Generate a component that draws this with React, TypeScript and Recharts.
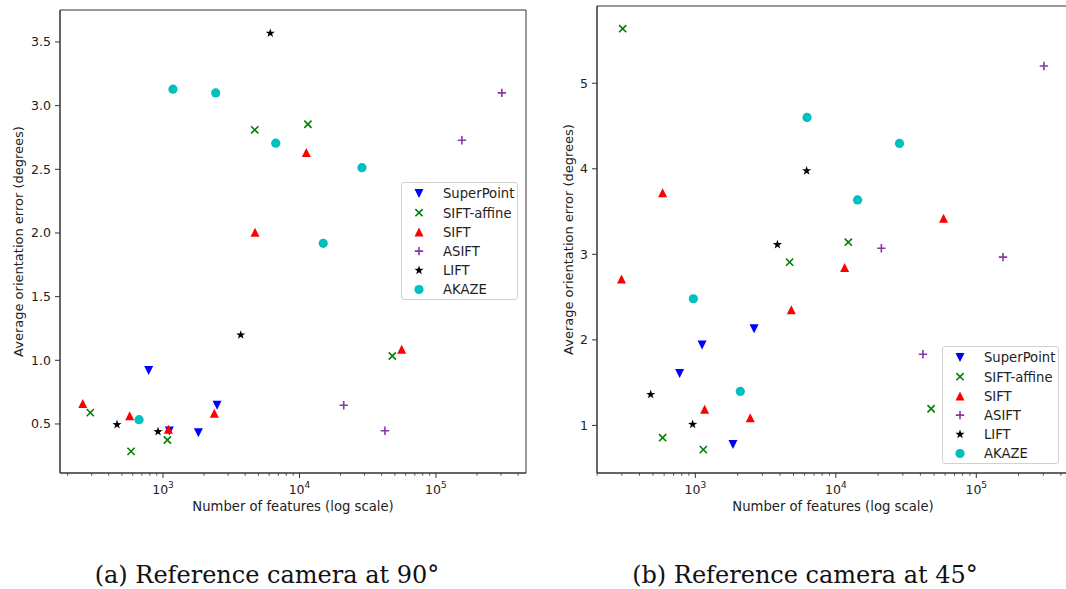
import React from 'react';
import { ScatterChart, Scatter, XAxis, YAxis, ReferenceArea, Legend } from 'recharts';

// --- data (x = number of features, y = error in degrees) ---

// (a) reference camera at 90°
const superPointX90 = [785, 1112, 1815, 2490];
const superPointY90 = [0.92, 0.445, 0.432, 0.647];
const siftAffineX90 = [293, 583, 1076, 4700, 11530, 47900];
const siftAffineY90 = [0.589, 0.285, 0.374, 2.81, 2.854, 1.034];
const siftX90 = [258, 570, 1094, 2377, 4720, 11220, 56100];
const siftY90 = [0.66, 0.565, 0.458, 0.584, 2.006, 2.631, 1.087];
const asiftX90 = [21100, 42300, 155000, 304000];
const asiftY90 = [0.647, 0.447, 2.728, 3.1];
const liftX90 = [460, 919, 3710, 6110];
const liftY90 = [0.495, 0.44, 1.199, 3.569];
const akazeX90 = [667, 1183, 2432, 6700, 14930, 28700];
const akazeY90 = [0.534, 3.129, 3.1, 2.705, 1.919, 2.513];

// (b) reference camera at 45°
const superPointX45 = [773, 1117, 1853, 2620];
const superPointY45 = [1.606, 1.941, 0.778, 2.131];
const siftAffineX45 = [304, 585, 1140, 4690, 12270, 47700];
const siftAffineY45 = [5.638, 0.857, 0.717, 2.909, 3.142, 1.195];
const siftX45 = [298, 585, 1165, 2460, 4820, 11560, 58500];
const siftY45 = [2.711, 3.72, 1.19, 1.09, 2.353, 2.846, 3.422];
const asiftX45 = [21100, 41700, 155000, 303000];
const asiftY45 = [3.072, 1.832, 2.967, 5.202];
const liftX45 = [481, 957, 3840, 6200];
const liftY45 = [1.362, 1.012, 3.114, 3.977];
const akazeX45 = [968, 2090, 6240, 14300, 28400];
const akazeY45 = [2.481, 1.397, 4.6, 3.636, 4.297];

const seriesNames = ['SuperPoint', 'SIFT-affine', 'SIFT', 'ASIFT', 'LIFT', 'AKAZE'];
const seriesColors = ['#0000ff', '#008000', '#ff0000', '#8c35a8', '#000000', '#00bfbf'];
const seriesMarkers = ['tri-down', 'x', 'tri-up', 'plus', 'star', 'circle'];

const yTicks90 = [0.5, 1.0, 1.5, 2.0, 2.5, 3.0, 3.5];
const yTicks45 = [1, 2, 3, 4, 5];
const xTicks = [
  200, 300, 400, 500, 600, 700, 800, 900,
  1000, 2000, 3000, 4000, 5000, 6000, 7000, 8000, 9000,
  10000, 20000, 30000, 40000, 50000, 60000, 70000, 80000, 90000,
  100000, 200000, 300000, 400000,
];

const zip = (xs: number[], ys: number[]) => xs.map((x, i) => ({ x, y: ys[i] }));

const data90 = [
  zip(superPointX90, superPointY90),
  zip(siftAffineX90, siftAffineY90),
  zip(siftX90, siftY90),
  zip(asiftX90, asiftY90),
  zip(liftX90, liftY90),
  zip(akazeX90, akazeY90),
];
const data45 = [
  zip(superPointX45, superPointY45),
  zip(siftAffineX45, siftAffineY45),
  zip(siftX45, siftY45),
  zip(asiftX45, asiftY45),
  zip(liftX45, liftY45),
  zip(akazeX45, akazeY45),
];

const FONT = '"DejaVu Sans", sans-serif';
const AXIS = '#333';

function Marker({ kind, cx, cy, color }: { kind: string; cx: number; cy: number; color: string }) {
  const r = 4.5;
  switch (kind) {
    case 'tri-down':
      return <path d={`M${cx - r},${cy - r}L${cx + r},${cy - r}L${cx},${cy + r}Z`} fill={color} />;
    case 'tri-up':
      return <path d={`M${cx - r},${cy + r}L${cx + r},${cy + r}L${cx},${cy - r}Z`} fill={color} />;
    case 'x': {
      const a = 3.6;
      return (
        <path
          d={`M${cx - a},${cy - a}L${cx + a},${cy + a}M${cx - a},${cy + a}L${cx + a},${cy - a}`}
          stroke={color}
          strokeWidth={1.6}
        />
      );
    }
    case 'plus': {
      const a = 4.2;
      return <path d={`M${cx - a},${cy}L${cx + a},${cy}M${cx},${cy - a}L${cx},${cy + a}`} stroke={color} strokeWidth={1.6} />;
    }
    case 'star': {
      const pts: string[] = [];
      for (let i = 0; i < 10; i++) {
        const rad = i % 2 === 0 ? 4.8 : 1.9;
        const ang = -Math.PI / 2 + (i * Math.PI) / 5;
        pts.push(`${cx + rad * Math.cos(ang)},${cy + rad * Math.sin(ang)}`);
      }
      return <polygon points={pts.join(' ')} fill={color} />;
    }
    default:
      return <circle cx={cx} cy={cy} r={4.6} fill={color} />;
  }
}

function LogTick(props: any) {
  const { x, y, payload } = props;
  const v = payload.value as number;
  const e = Math.log10(v);
  const major = Math.abs(e - Math.round(e)) < 1e-6;
  return (
    <g>
      <line x1={x} x2={x} y1={y} y2={y + (major ? 5 : 2.8)} stroke={AXIS} strokeWidth={major ? 1 : 0.8} />
      {major && (
        <text x={x} y={y + 21} textAnchor="middle" fontSize={12.5} fill="#222" fontFamily={FONT}>
          10
          <tspan dy={-6} fontSize={9}>
            {Math.round(e)}
          </tspan>
        </text>
      )}
    </g>
  );
}

function LegendBox() {
  return (
    <div
      style={{
        width: 117,
        height: 118,
        border: '1px solid #d2d2d2',
        borderRadius: 3,
        background: 'rgba(255,255,255,0.8)',
        boxSizing: 'border-box',
      }}
    >
      <svg width={117} height={118} style={{ display: 'block', marginLeft: -1, marginTop: -1 }}>
        {seriesNames.map((name, i) => {
          const cy = 11.5 + i * 19.2;
          return (
            <g key={name}>
              <Marker kind={seriesMarkers[i]} cx={18} cy={cy} color={seriesColors[i]} />
              <text x={42} y={cy + 4.8} fontSize={13.2} fill="#222" fontFamily={FONT}>
                {name}
              </text>
            </g>
          );
        })}
      </svg>
    </div>
  );
}

interface PanelProps {
  data: { x: number; y: number }[][];
  xDomain: [number, number];
  yDomain: [number, number];
  yTicks: number[];
  yFormat: (v: number) => string;
  marginTop: number;
  marginRight: number;
  yAxisWidth: number;
  labelOffset: number;
  legendLeft: number;
  legendTop: number;
}

function Panel(p: PanelProps) {
  return (
    <ScatterChart
      width={540}
      height={530}
      margin={{ top: p.marginTop, right: p.marginRight, bottom: 0, left: 0 }}
      style={{ fontFamily: FONT }}
    >
      <XAxis
        dataKey="x"
        type="number"
        scale="log"
        domain={p.xDomain}
        allowDataOverflow
        ticks={xTicks}
        interval={0}
        tick={<LogTick />}
        tickLine={false}
        tickSize={0}
        tickMargin={0}
        height={57}
        axisLine={{ stroke: AXIS }}
        label={{
          value: 'Number of features (log scale)',
          position: 'insideBottom',
          offset: 19,
          fontSize: 13.2,
          fill: '#222',
        }}
      />
      <YAxis
        dataKey="y"
        type="number"
        domain={p.yDomain}
        allowDataOverflow
        ticks={p.yTicks}
        interval={0}
        tickFormatter={p.yFormat}
        width={p.yAxisWidth}
        tickSize={5}
        tickMargin={4}
        tick={{ fontSize: 12.5, fill: '#222' }}
        tickLine={{ stroke: AXIS }}
        axisLine={{ stroke: AXIS }}
        label={{
          value: 'Average orientation error (degrees)',
          angle: -90,
          position: 'insideLeft',
          offset: p.labelOffset,
          fontSize: 13,
          fill: '#222',
          style: { textAnchor: 'middle' },
        }}
      />
      <ReferenceArea
        x1={p.xDomain[0]}
        x2={p.xDomain[1]}
        y1={p.yDomain[0]}
        y2={p.yDomain[1]}
        fill="none"
        stroke={AXIS}
        strokeWidth={1}
      />
      {seriesNames.map((name, i) => (
        <Scatter
          key={name}
          name={name}
          data={p.data[i]}
          fill={seriesColors[i]}
          isAnimationActive={false}
          shape={(s: any) => <Marker kind={seriesMarkers[i]} cx={s.cx} cy={s.cy} color={seriesColors[i]} />}
        />
      ))}
      <Legend
        layout="vertical"
        align="center"
        verticalAlign="middle"
        content={() => <LegendBox />}
        wrapperStyle={{ position: 'absolute', left: p.legendLeft, top: p.legendTop, width: 117, height: 118 }}
      />
    </ScatterChart>
  );
}

export default function App() {
  return (
    <div
      style={{
        position: 'absolute',
        left: 0,
        top: 0,
        width: 1066,
        height: 589,
        overflow: 'hidden',
        background: '#fff',
      }}
    >
      <div style={{ position: 'absolute', left: 0, top: 0 }}>
        <Panel
          data={data90}
          xDomain={[Math.pow(10, 2.245), Math.pow(10, 5.66)]}
          yDomain={[0.115, 3.751]}
          yTicks={yTicks90}
          yFormat={(v) => v.toFixed(1)}
          marginTop={10}
          marginRight={14}
          yAxisWidth={60}
          labelOffset={18}
          legendLeft={401}
          legendTop={182}
        />
      </div>
      <div style={{ position: 'absolute', left: 540, top: 0 }}>
        <Panel
          data={data45}
          xDomain={[Math.pow(10, 2.3), Math.pow(10, 5.66)]}
          yDomain={[0.444, 5.903]}
          yTicks={yTicks45}
          yFormat={(v) => String(v)}
          marginTop={6}
          marginRight={11}
          yAxisWidth={57}
          labelOffset={28}
          legendLeft={402}
          legendTop={346}
        />
      </div>
      <svg width={1066} height={59} style={{ position: 'absolute', left: 0, top: 530 }}>
        <text x={267} y={53} textAnchor="middle" fontSize={24} fontFamily='"DejaVu Serif", serif' fill="#111">
          (a) Reference camera at 90°
        </text>
        <text x={805} y={53} textAnchor="middle" fontSize={24} fontFamily='"DejaVu Serif", serif' fill="#111">
          (b) Reference camera at 45°
        </text>
      </svg>
    </div>
  );
}
